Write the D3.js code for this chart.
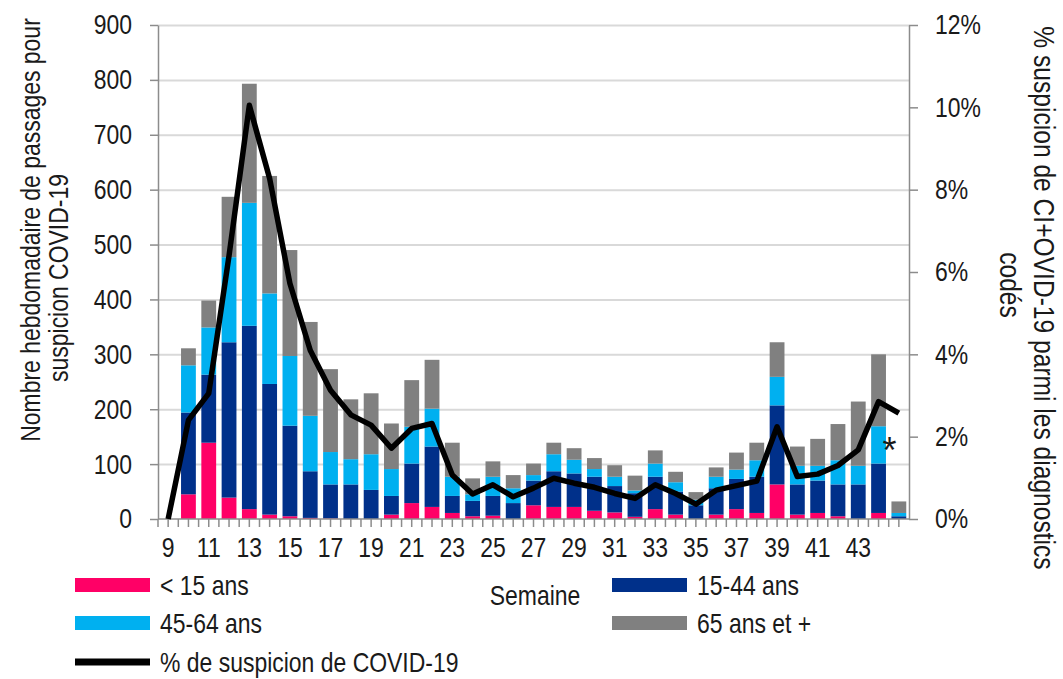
<!DOCTYPE html>
<html>
<head>
<meta charset="utf-8">
<script src="https://cdnjs.cloudflare.com/ajax/libs/d3/7.8.5/d3.min.js"></script>
<style>
	body { margin: 0; background: #fff; }
	text { font-family: "Liberation Sans", Arial, sans-serif; fill: #1a1a1a; font-size: 28px; }
</style>
</head>
<body>
<div id="chart"></div>
<script>

// weeks shown on the category axis
var weeks = [9, 10, 11, 12, 13, 14, 15, 16, 17, 18, 19, 20, 21, 22, 23, 24, 25, 26, 27,
	28, 29, 30, 31, 32, 33, 34, 35, 36, 37, 38, 39, 40, 41, 42, 43, 44, 45];

// weekly passages by age group
var under15 = [0, 45, 139, 39, 18, 8, 5, 2, 1, 0, 0, 8, 29, 22, 11, 5, 6, 0, 25,
	22, 22, 15, 12, 4, 18, 8, 0, 8, 18, 11, 63, 8, 11, 5, 0, 11, 0];
var age15_44 = [0, 149, 124, 283, 334, 238, 165, 85, 62, 63, 53, 34, 72, 110, 31, 28, 36, 29, 45,
	65, 61, 62, 48, 43, 59, 42, 25, 48, 55, 66, 144, 55, 59, 58, 63, 90, 5];
var age45_64 = [0, 86, 86, 155, 224, 165, 127, 101, 59, 46, 65, 49, 67, 69, 35, 12, 35, 27, 10,
	31, 25, 14, 17, 5, 24, 17, 10, 21, 17, 30, 52, 34, 27, 44, 34, 68, 6];
var age65plus = [0, 31, 49, 110, 217, 214, 193, 171, 151, 109, 111, 83, 85, 89, 62, 29, 28, 24, 21,
	21, 21, 20, 21, 27, 24, 19, 14, 17, 31, 32, 63, 35, 49, 66, 117, 131, 21];

// % suspicion COVID-19 (right axis)
var pctSuspicion = [0, 2.4, 3.05, 6.4, 10.05, 8.27, 5.72, 4.1, 3.13, 2.53, 2.28, 1.72, 2.2, 2.32, 1.07, 0.61, 0.83, 0.54, 0.75,
	0.99, 0.87, 0.77, 0.62, 0.5, 0.83, 0.62, 0.36, 0.7, 0.81, 0.92, 2.24, 1.03, 1.09, 1.3, 1.68, 2.85, 2.57];

var leftTicks = [0, 100, 200, 300, 400, 500, 600, 700, 800, 900];
var rightTicks = [0, 2, 4, 6, 8, 10, 12];
var weekLabels = [9, 11, 13, 15, 17, 19, 21, 23, 25, 27, 29, 31, 33, 35, 37, 39, 41, 43];

var seriesKeys = ["< 15 ans", "15-44 ans", "45-64 ans", "65 ans et +"];
var seriesColors = ["#FF0066", "#00308A", "#00B0F0", "#808080"];


// the original uses a narrow face: squeeze the regular one horizontally
var SQUEEZE = 0.82;

function narrow(sel) {
	sel.each(function() {
		var t = d3.select(this);
		var x0 = +t.attr("x") || 0;
		var tr = t.attr("transform") || "";
		t.attr("x", x0 / SQUEEZE).attr("transform", tr + " scale(" + SQUEEZE + ",1)");
	});
}


//*******************************************************************************************
//
//		CHART
//
//*******************************************************************************************

var width = 1063, height = 679;
var plotLeft = 158, plotRight = 909, plotTop = 25, plotBottom = 519;

var svg = d3.select("#chart").append("svg")
	.attr("width", width)
	.attr("height", height);

svg.append("rect").attr("width", width).attr("height", height).attr("fill", "#fff");

var x = d3.scaleBand()
	.domain(weeks)
	.range([plotLeft, plotRight])
	.paddingInner(0.27)
	.paddingOuter(0.135);

var y = d3.scaleLinear().domain([0, 900]).range([plotBottom, plotTop]);
var y2 = d3.scaleLinear().domain([0, 12]).range([plotBottom, plotTop]);

// gridlines
svg.append("g")
	.attr("transform", "translate(" + plotLeft + ",0)")
	.call(d3.axisLeft(y).tickValues(leftTicks.slice(1)).tickSize(-(plotRight - plotLeft)).tickFormat(""))
	.call(function(g) {
		g.select(".domain").remove();
		g.selectAll("line").attr("stroke", "#d9d9d9").attr("stroke-width", 2);
	});

// stacked bars
var rows = weeks.map(function(w, i) {
	var r = { week: w };
	r[seriesKeys[0]] = under15[i];
	r[seriesKeys[1]] = age15_44[i];
	r[seriesKeys[2]] = age45_64[i];
	r[seriesKeys[3]] = age65plus[i];
	return r;
});

var stacked = d3.stack().keys(seriesKeys)(rows);

svg.append("g")
	.selectAll("g")
	.data(stacked)
	.enter()
	.append("g")
	.attr("fill", function(d, i) { return seriesColors[i]; })
	.selectAll("rect")
	.data(function(d) { return d; })
	.enter()
	.append("rect")
	.attr("x", function(d) { return x(d.data.week); })
	.attr("width", x.bandwidth())
	.attr("y", function(d) { return y(d[1]); })
	.attr("height", function(d) { return y(d[0]) - y(d[1]); });

function styleAxis(g) {
	g.select(".domain").attr("stroke", "#8c8c8c").attr("stroke-width", 1.5);
	g.selectAll("line").attr("stroke", "#8c8c8c").attr("stroke-width", 1.5);
	g.selectAll("text").attr("fill", "#1a1a1a").style("font-size", "28px").call(narrow);
}

// left axis
svg.append("g")
	.attr("transform", "translate(" + plotLeft + ",0)")
	.call(d3.axisLeft(y).tickValues(leftTicks).tickSize(8).tickSizeOuter(0).tickPadding(18))
	.call(styleAxis);

// right axis
svg.append("g")
	.attr("transform", "translate(" + plotRight + ",0)")
	.call(d3.axisRight(y2).tickValues(rightTicks).tickSize(9).tickSizeOuter(0).tickPadding(17)
		.tickFormat(function(d) { return d + "%"; }))
	.call(styleAxis);

// bottom axis: ticks at centres and band boundaries
var halfGap = (x.step() - x.bandwidth()) / 2;
svg.append("g")
	.attr("transform", "translate(0," + plotBottom + ")")
	.call(d3.axisBottom(x).tickValues(weeks).tickSize(8).tickSizeOuter(0).tickPadding(10)
		.tickFormat(function(d) { return weekLabels.indexOf(d) >= 0 ? d : ""; }))
	.call(styleAxis)
	.call(function(g) {
		g.select(".domain").attr("d", "M" + plotLeft + ",0H" + plotRight);
		g.selectAll(".bound")
			.data(weeks)
			.enter()
			.append("line")
			.attr("class", "bound")
			.attr("x1", function(d) { return x(d) - halfGap; })
			.attr("x2", function(d) { return x(d) - halfGap; })
			.attr("y2", 8)
			.attr("stroke", "#8c8c8c")
			.attr("stroke-width", 1.5);
	});

// % line
var line = d3.line()
	.x(function(d, i) { return x(weeks[i]) + x.bandwidth() / 2; })
	.y(function(d) { return y2(d); });

svg.append("path")
	.datum(pctSuspicion)
	.attr("d", line)
	.attr("fill", "none")
	.attr("stroke", "#000")
	.attr("stroke-width", 5.5)
	.attr("stroke-linejoin", "round");

// asterisk on the last complete week
svg.append("text")
	.attr("x", x(45) - 2)
	.attr("y", 463)
	.attr("text-anchor", "middle")
	.style("font-size", "36px")
	.text("*");

// axis titles
function addTitle(tx, ty, angle, label, size) {
	svg.append("text")
		.attr("transform", "translate(" + tx + "," + ty + ") rotate(" + angle + ")")
		.attr("text-anchor", "middle")
		.attr("dominant-baseline", "central")
		.style("font-size", size + "px")
		.text(label)
		.call(narrow);
}

addTitle(30, 230, -90, "Nombre hebdomadaire de passages pour", 28);
addTitle(58, 278, -90, "suspicion COVID-19", 28);
addTitle(1044, 298, 90, "% suspicion de CI+OVID-19 parmi les diagnostics", 30);
addTitle(1010, 285, 90, "codés", 30);

svg.append("text")
	.attr("x", 535)
	.attr("y", 595)
	.attr("text-anchor", "middle")
	.attr("dominant-baseline", "central")
	.text("Semaine")
	.call(narrow);


//*******************************************************************************************
//
//		LEGEND
//
//*******************************************************************************************

var legendItems = [
	{ label: seriesKeys[0], color: seriesColors[0], x: 75, y: 585, kind: "bar" },
	{ label: seriesKeys[1], color: seriesColors[1], x: 612, y: 585, kind: "bar" },
	{ label: seriesKeys[2], color: seriesColors[2], x: 75, y: 623, kind: "bar" },
	{ label: seriesKeys[3], color: seriesColors[3], x: 612, y: 623, kind: "bar" },
	{ label: "% de suspicion de COVID-19", color: "#000", x: 75, y: 662, kind: "line" }
];

var legend = svg.append("g")
	.selectAll("g")
	.data(legendItems)
	.enter()
	.append("g")
	.attr("transform", function(d) { return "translate(" + d.x + "," + d.y + ")"; });

legend.append("rect")
	.attr("x", 0)
	.attr("y", function(d) { return d.kind == "bar" ? -7 : -3.5; })
	.attr("width", 75)
	.attr("height", function(d) { return d.kind == "bar" ? 14 : 7; })
	.attr("fill", function(d) { return d.color; });

legend.append("text")
	.attr("x", 85)
	.attr("dominant-baseline", "central")
	.text(function(d) { return d.label; })
	.call(narrow);

</script>
</body>
</html>
